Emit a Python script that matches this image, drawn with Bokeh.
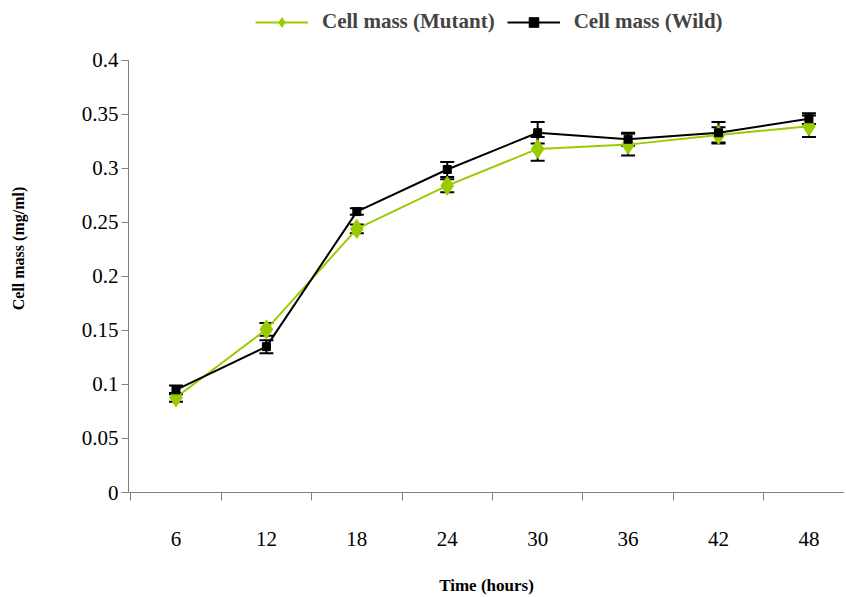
from bokeh.plotting import figure
from bokeh.models import (ColumnDataSource, Whisker, TeeHead, FixedTicker, Legend, LegendItem,
                          CustomJSTickFormatter, Range1d)
from bokeh.embed import file_html
from bokeh.resources import INLINE

hours = [6, 12, 18, 24, 30, 36, 42, 48]
mutant = [0.088, 0.151, 0.244, 0.284, 0.318, 0.322, 0.331, 0.339]
mutant_err = [0.004, 0.006, 0.004, 0.006, 0.011, 0.010, 0.007, 0.010]
wild = [0.095, 0.135, 0.260, 0.299, 0.333, 0.327, 0.333, 0.346]
wild_err = [0.004, 0.006, 0.003, 0.007, 0.010, 0.006, 0.010, 0.005]
y_ticks = [0, 0.05, 0.1, 0.15, 0.2, 0.25, 0.3, 0.35, 0.4]
x_bounds = [3, 9, 15, 21, 27, 33, 39, 45, 51]
y_axis_max = 0.4

GREEN = "#99CC00"
SERIF = "Liberation Serif"

src_m = ColumnDataSource(dict(x=hours, y=mutant,
                              lo=[v - e for v, e in zip(mutant, mutant_err)],
                              hi=[v + e for v, e in zip(mutant, mutant_err)]))
src_w = ColumnDataSource(dict(x=hours, y=wild,
                              lo=[v - e for v, e in zip(wild, wild_err)],
                              hi=[v + e for v, e in zip(wild, wild_err)]))

# frame extends above 0.4 so the legend can sit inside it (axis line stops at 0.4)
p = figure(width=844, height=597, output_backend="svg", toolbar_location=None,
           x_range=Range1d(2.85, 50.36), y_range=Range1d(0, 0.4517),
           min_border_left=128, min_border_right=0, min_border_top=4, min_border_bottom=103)
p.outline_line_color = None
p.xgrid.grid_line_color = None
p.ygrid.grid_line_color = None

lm = p.line("x", "y", source=src_m, line_color=GREEN, line_width=2)
sm = p.scatter("x", "y", source=src_m, marker="diamond", size=19, fill_color=GREEN, line_color=GREEN)
lw = p.line("x", "y", source=src_w, line_color="black", line_width=2)
sw = p.scatter("x", "y", source=src_w, marker="square", size=8, fill_color="black", line_color="black")

for src in (src_m, src_w):
    wk = Whisker(source=src, base="x", lower="lo", upper="hi", line_color="black", line_width=2,
                 upper_head=TeeHead(size=14, line_color="black", line_width=2),
                 lower_head=TeeHead(size=14, line_color="black", line_width=2))
    p.add_layout(wk)

# x axis
xa = p.xaxis[0]
xa.ticker = FixedTicker(ticks=hours, minor_ticks=x_bounds)
xa.major_tick_line_color = None
xa.major_tick_out = 0
xa.major_tick_in = 0
xa.minor_tick_out = 8
xa.minor_tick_in = 0
xa.minor_tick_line_color = "#808080"
xa.axis_line_color = "#808080"
xa.major_label_text_font = SERIF
xa.major_label_text_font_size = "21px"
xa.major_label_text_color = "black"
xa.major_label_standoff = 31
xa.axis_label = "Time (hours)"
xa.axis_label_text_font = SERIF
xa.axis_label_text_font_style = "bold"
xa.axis_label_text_font_size = "17px"
xa.axis_label_text_color = "black"
xa.axis_label_standoff = 27

# y axis
ya = p.yaxis[0]
ya.bounds = (0, y_axis_max)
ya.ticker = FixedTicker(ticks=y_ticks, minor_ticks=[])
ya.formatter = CustomJSTickFormatter(code="return tick.toFixed(2).replace(/0+$/, '').replace(/\\.$/, '');")
ya.major_tick_out = 7
ya.major_tick_in = 0
ya.major_tick_line_color = "#808080"
ya.axis_line_color = "#808080"
ya.major_label_text_font = SERIF
ya.major_label_text_font_size = "21px"
ya.major_label_text_color = "black"
ya.major_label_standoff = 3
ya.axis_label = "Cell mass (mg/ml)"
ya.axis_label_text_font = SERIF
ya.axis_label_text_font_style = "bold"
ya.axis_label_text_font_size = "16px"
ya.axis_label_text_color = "black"
ya.axis_label_standoff = 52

legend = Legend(items=[LegendItem(label="Cell mass (Mutant)", renderers=[lm, sm]),
                       LegendItem(label="Cell mass (Wild)", renderers=[lw, sw])],
                orientation="horizontal", location=(127, 458),
                padding=0, margin=0, spacing=12, label_standoff=14,
                glyph_width=53, glyph_height=24,
                border_line_color=None, background_fill_alpha=0,
                label_text_font=SERIF, label_text_font_style="bold", label_text_font_size="21px")
p.add_layout(legend)

open("out.html", "w").write(file_html(p, INLINE))
